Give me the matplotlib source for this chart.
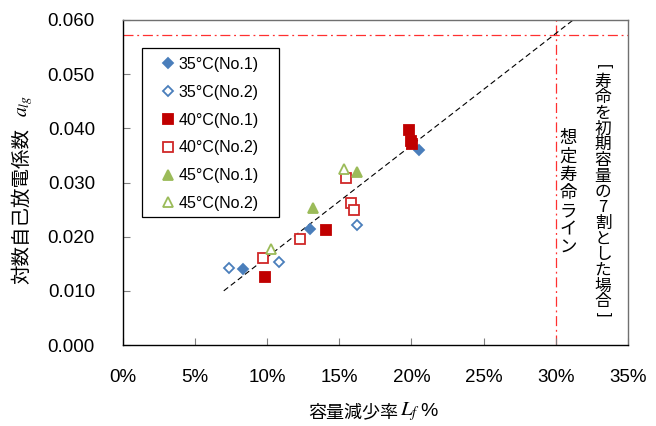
import matplotlib
matplotlib.use("Agg")
import matplotlib.pyplot as plt
from matplotlib.patches import Rectangle

plt.rcParams['font.family'] = ['Liberation Sans', 'Noto Sans CJK JP', 'DejaVu Sans']
plt.rcParams['mathtext.fontset'] = 'stix'

# capacity loss Lf (%) and log self-discharge coefficient a_lg
x_35_1 = [8.3, 13.0, 20.5]
y_35_1 = [0.0140, 0.0214, 0.0360]
x_35_2 = [7.35, 10.8, 16.2]
y_35_2 = [0.0143, 0.0153, 0.0221]
x_40_1 = [9.85, 14.05, 19.8, 19.95, 20.05]
y_40_1 = [0.0125, 0.0213, 0.0397, 0.0377, 0.0372]
x_40_2 = [9.7, 12.25, 15.45, 15.8, 16.0]
y_40_2 = [0.0160, 0.0196, 0.0309, 0.0263, 0.0249]
x_45_1 = [13.2, 16.25]
y_45_1 = [0.0253, 0.0320]
x_45_2 = [10.3, 15.3]
y_45_2 = [0.0177, 0.0325]

# fitted trend line endpoints
trend_x = [7.0, 31.2]
trend_y = [0.0100, 0.0600]

life_x = 30.0          # assumed end-of-life (70% of initial capacity)
life_y = 0.0572

x_ticks = [0, 5, 10, 15, 20, 25, 30, 35]
y_ticks = [0.0, 0.01, 0.02, 0.03, 0.04, 0.05, 0.06]

blue = '#4A7EBB'
red = '#C00000'
red_open = '#D02828'
green = '#9BBB59'

W, H = 656, 426
fig = plt.figure(figsize=(W / 100, H / 100), dpi=100)
ax = fig.add_axes([122.7 / W, 1 - 345 / H, (628 - 122.7) / W, 325 / H])


def ax_frac(px, py):
    return (px - 122.7) / 505.3, (345 - py) / 325


ax.plot(trend_x, trend_y, color='black', lw=0.8, ls=(0, (5, 3)), zorder=2)
ax.axvline(life_x, color='#FF3030', lw=0.9, ls=(0, (8, 3, 1.5, 3)), zorder=1)
ax.axhline(life_y, color='#FF3030', lw=0.9, ls=(0, (8, 3, 1.5, 3)), zorder=1)

series = [
    (x_35_1, y_35_1, 'D', 4.8, blue, blue, '35°C(No.1)'),
    (x_35_2, y_35_2, 'D', 4.8, 'white', blue, '35°C(No.2)'),
    (x_40_1, y_40_1, 's', 6.5, red, red, '40°C(No.1)'),
    (x_40_2, y_40_2, 's', 6.5, 'white', red_open, '40°C(No.2)'),
    (x_45_1, y_45_1, '^', 7.4, green, green, '45°C(No.1)'),
    (x_45_2, y_45_2, '^', 7.4, 'white', green, '45°C(No.2)'),
]
for xs, ys, m, ms, fc, ec, lab in series:
    ax.plot(xs, ys, ls='none', marker=m, ms=ms, mfc=fc, mec=ec, mew=1.3,
            label=lab, zorder=3)

ax.set_xlim(0, 35)
ax.set_ylim(0, 0.06)
ax.set_xticks(x_ticks)
ax.set_xticklabels([f'{v}%' for v in x_ticks])
ax.set_yticks(y_ticks)
ax.set_yticklabels([f'{v:.3f}' for v in y_ticks])
ax.tick_params(direction='in', length=5, width=0.8, color='#808080',
               labelsize=13.5, pad=17)
ax.tick_params(axis='y', pad=20)
for side in ['left', 'bottom']:
    ax.spines[side].set_color('black')
    ax.spines[side].set_linewidth(1.0)
for side in ['top', 'right']:
    ax.spines[side].set_color('#707070')
    ax.spines[side].set_linewidth(1.0)

# legend with a hand-placed frame
lx, ly = ax_frac(160, 57)
leg = ax.legend(loc='upper left', bbox_to_anchor=(lx, ly), borderaxespad=0,
                frameon=False, fontsize=11.5, labelspacing=0.8, handlelength=1.0,
                handletextpad=0.15, borderpad=0)
bx0, by0 = ax_frac(141.7, 217.3)
bx1, by1 = ax_frac(279.3, 48.3)
ax.add_patch(Rectangle((bx0, by0), bx1 - bx0, by1 - by0, transform=ax.transAxes,
                       fill=True, facecolor='white', edgecolor='black', lw=0.9, zorder=4))
leg.set_zorder(5)

# vertical annotation: assumed-life line
col1 = '想定寿命ライン'
for i, ch in enumerate(col1):
    fx, fy = ax_frac(568, 138 + i * 18.3)
    ax.text(fx, fy, ch, transform=ax.transAxes, ha='center', va='center',
            fontsize=12.5, family=['Noto Sans CJK JP'])

col2 = '寿命を初期容量の7割とした場合'
for i, ch in enumerate(col2):
    fx, fy = ax_frac(603, 82 + i * 15.7)
    ax.text(fx, fy, ch, transform=ax.transAxes, ha='center', va='center',
            fontsize=12, family=['Noto Sans CJK JP', 'Liberation Sans'])
fx, fy = ax_frac(603, 66)
ax.text(fx, fy, '[', transform=ax.transAxes, ha='center', va='center',
        fontsize=12, rotation=-90, family=['Liberation Sans'])
fx, fy = ax_frac(603, 314)
ax.text(fx, fy, ']', transform=ax.transAxes, ha='center', va='center',
        fontsize=12, rotation=-90, family=['Liberation Sans'])

# axis titles
fig.text(22 / W, 1 - 206 / H, '対数自己放電係数', rotation=90, ha='center', va='center',
         fontsize=14, family=['Noto Sans CJK JP'])
fig.text(26 / W, 1 - 106 / H, r'$a_{lg}$', rotation=90, ha='center', va='center',
         fontsize=14)
fig.text(398 / W, 1 - 412 / H, '容量減少率', ha='right', va='center',
         fontsize=13, family=['Noto Sans CJK JP'])
fig.text(400 / W, 1 - 412 / H, r'$L_f$', ha='left', va='center', fontsize=15)
fig.text(420 / W, 1 - 412 / H, '%', ha='left', va='center', fontsize=14)

fig.savefig('out.png', dpi=100)
